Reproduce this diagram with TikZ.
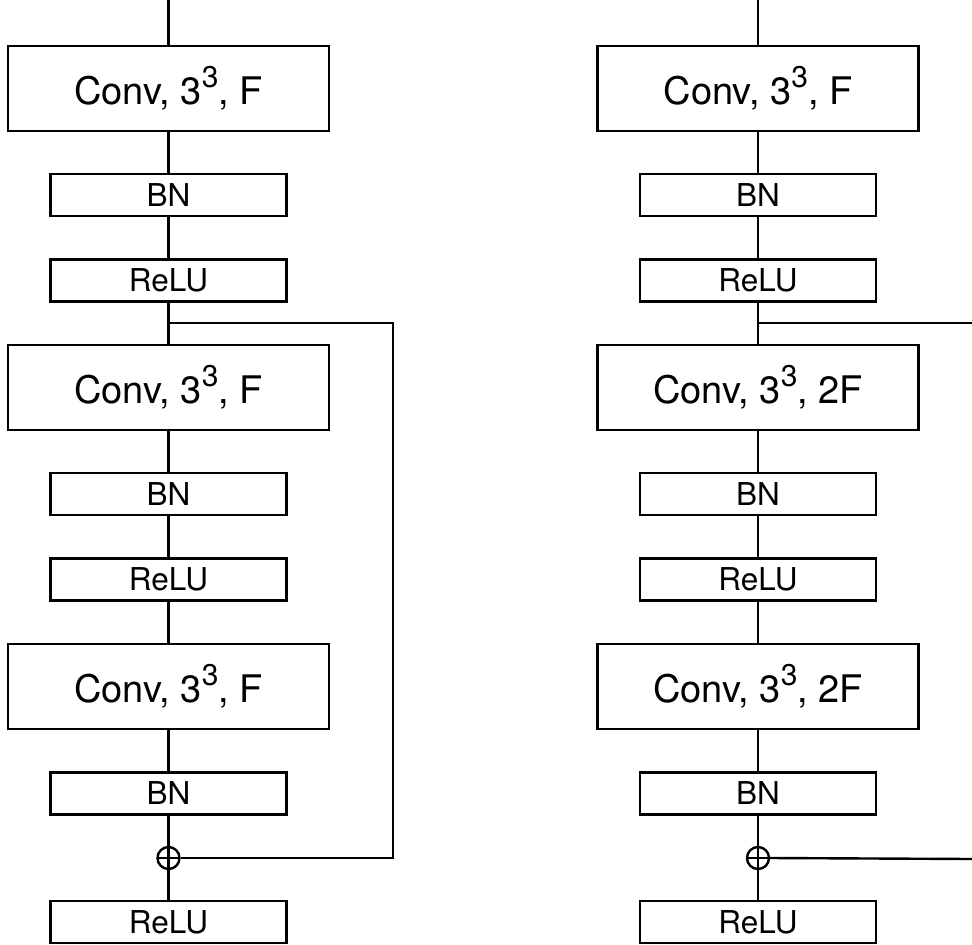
\documentclass[tikz,border=0pt]{standalone}
\usepackage{fontspec}
\setmainfont{TeX Gyre Heros}
\newcommand\supthree{3\raisebox{17pt}{\fontsize{30}{30}\selectfont 3}}
\begin{document}
\begin{tikzpicture}[x=1pt,y=-1pt, line width=2.4pt,
  bigbox/.style={draw, minimum width=321pt, minimum height=85pt, inner sep=0pt, font=\fontsize{38}{44}\selectfont},
  smallbox/.style={draw, minimum width=236pt, minimum height=42pt, inner sep=0pt, font=\fontsize{31.5}{36}\selectfont},
  plusnode/.style={draw, circle, minimum size=22pt, inner sep=0pt,
    path picture={\draw[line width=2.4pt] (path picture bounding box.north) -- (path picture bounding box.south)
      (path picture bounding box.west) -- (path picture bounding box.east);}},
  conn/.style={draw, line width=2.4pt}]
\useasboundingbox (0,0) rectangle (972,945);
% ---------- left column ----------
\coordinate (lt) at (168.5,0);
\node[bigbox] (lc1) at (168.5,88.5) {Conv, \supthree, F};
\node[smallbox] (lb1) at (168.5,195) {BN};
\node[smallbox] (lr1) at (168.5,280.5) {ReLU};
\coordinate (ls) at (168.5,323);
\node[bigbox] (lc2) at (168.5,387.5) {Conv, \supthree, F};
\node[smallbox] (lb2) at (168.5,494) {BN};
\node[smallbox] (lr2) at (168.5,579.5) {ReLU};
\node[bigbox] (lc3) at (168.5,686.5) {Conv, \supthree, F};
\node[smallbox] (lb3) at (168.5,793.5) {BN};
\node[plusnode] (lp) at (168.5,858) {};
\node[smallbox] (lr3) at (168.5,922) {ReLU};
\coordinate (lsa) at (393,323);
\coordinate (lsb) at (393,858);
\draw[conn] (lt) -- (lc1.north);
\draw[conn] (lc1) -- (lb1);
\draw[conn] (lb1) -- (lr1);
\draw[conn] (lr1) -- (lc2);
\draw[conn] (lc2) -- (lb2);
\draw[conn] (lb2) -- (lr2);
\draw[conn] (lr2) -- (lc3);
\draw[conn] (lc3) -- (lb3);
\draw[conn] (lb3) -- (lp);
\draw[conn] (lp) -- (lr3);
\draw[conn] (ls) -- (lsa) -- (lsb) -- (lp.east);
% ---------- right column ----------
\coordinate (rt) at (758,0);
\node[bigbox] (rc1) at (758,88.5) {Conv, \supthree, F};
\node[smallbox] (rb1) at (758,195) {BN};
\node[smallbox] (rr1) at (758,280.5) {ReLU};
\coordinate (rs) at (758,323);
\node[bigbox] (rc2) at (758,387.5) {Conv, \supthree, 2F};
\node[smallbox] (rb2) at (758,494) {BN};
\node[smallbox] (rr2) at (758,579.5) {ReLU};
\node[bigbox] (rc3) at (758,686.5) {Conv, \supthree, 2F};
\node[smallbox] (rb3) at (758,793.5) {BN};
\node[plusnode] (rp) at (758,858) {};
\node[smallbox] (rr3) at (758,922) {ReLU};
\coordinate (rsa) at (972,323);
\coordinate (rsb) at (972,859);
\draw[conn] (rt) -- (rc1.north);
\draw[conn] (rc1) -- (rb1);
\draw[conn] (rb1) -- (rr1);
\draw[conn] (rr1) -- (rc2);
\draw[conn] (rc2) -- (rb2);
\draw[conn] (rb2) -- (rr2);
\draw[conn] (rr2) -- (rc3);
\draw[conn] (rc3) -- (rb3);
\draw[conn] (rb3) -- (rp);
\draw[conn] (rp) -- (rr3);
\draw[conn] (rs) -- (rsa);
\draw[conn] (rp.east) -- (rsb);
\end{tikzpicture}
\end{document}
